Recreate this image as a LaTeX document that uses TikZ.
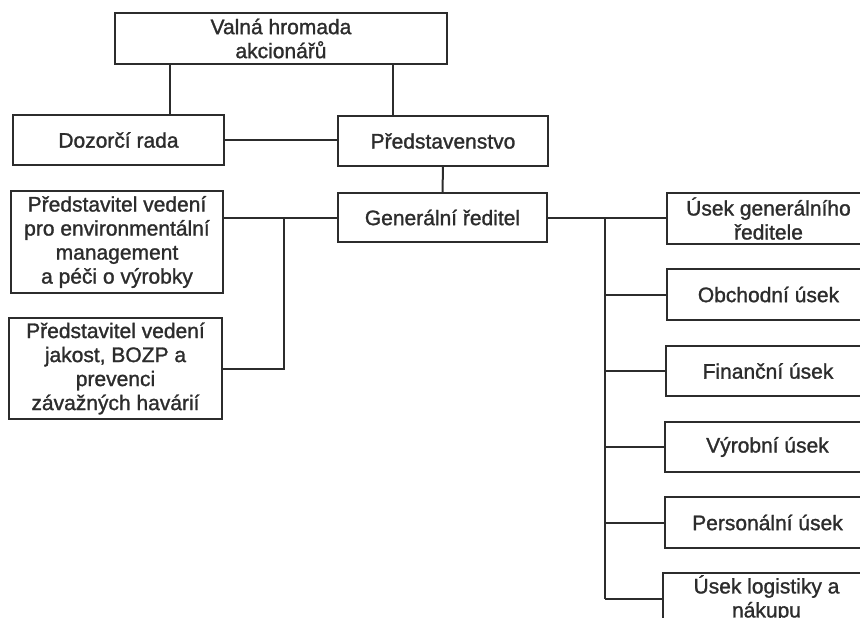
\documentclass[tikz,border=0pt]{standalone}
\usepackage{fontspec}
\setmainfont{Liberation Sans}
\newfontfamily\heavyfont{Liberation Sans}[FakeBold=1.3]
\definecolor{ink}{HTML}{2C2C2C}
\begin{document}
\begin{tikzpicture}[x=1pt,y=-1pt,
  box/.style={draw=ink, line width=2pt, rectangle, inner sep=0pt, align=center,
    text=ink, font=\heavyfont\fontsize{21}{24}\selectfont},
  conn/.style={draw=ink, line width=2pt}]
\useasboundingbox (0,0) rectangle (860,618);
\clip (0,0) rectangle (860,618);
\node[box, minimum width=332pt, minimum height=51pt] (val) at (281,38.5) {Valná hromada\\akcionářů};
\node[box, minimum width=211pt, minimum height=50pt] (doz) at (118.5,140) {Dozorčí rada};
\node[box, minimum width=210pt, minimum height=50pt] (pre) at (443,141) {Představenstvo};
\node[box, minimum width=209pt, minimum height=49pt] (gen) at (442.5,217.5) {Generální ředitel};
\node[box, minimum width=212pt, minimum height=102pt] (env) at (117,242) {Představitel vedení\\pro environmentální\\management\\a péči o výrobky};
\node[box, minimum width=213pt, minimum height=101pt] (jak) at (115.5,368.5) {Představitel vedení\\jakost, BOZP a\\prevenci\\závažných havárií};
\node[box, minimum width=203pt, minimum height=51pt] (u1) at (768.5,218.5) {Úsek generálního\\ředitele};
\node[box, minimum width=203pt, minimum height=51pt] (u2) at (768.5,294.5) {Obchodní úsek};
\node[box, minimum width=204pt, minimum height=50pt] (u3) at (768,371) {Finanční úsek};
\node[box, minimum width=205pt, minimum height=50pt] (u4) at (767.5,447) {Výrobní úsek};
\node[box, minimum width=205pt, minimum height=51pt] (u5) at (767.5,522.5) {Personální úsek};
\node[box, minimum width=207pt, minimum height=51pt] (u6) at (766.5,598.5) {Úsek logistiky a\\nákupu};
\coordinate (xd) at (170,0);
\coordinate (xp) at (393,0);
\coordinate (xl) at (284,0);
\coordinate (xr) at (605,0);
\draw[conn] (val.south -| xd) -- (doz.north -| xd);
\draw[conn] (val.south -| xp) -- (pre.north -| xp);
\draw[conn] (doz.east) -- (doz.east -| pre.west);
\draw[conn] (pre.south) -- (gen.north);
\draw[conn] (gen.west) -- (gen.west -| env.east);
\draw[conn] (gen.west -| xl) -- (jak.east -| xl) -- (jak.east);
\draw[conn] (gen.east) -- (gen.east -| u1.west);
\draw[conn] (gen.east -| xr) -- (u6.west -| xr);
\foreach \u in {u2,u3,u4,u5,u6} \draw[conn] (\u.west -| xr) -- (\u.west);
\end{tikzpicture}
\end{document}
